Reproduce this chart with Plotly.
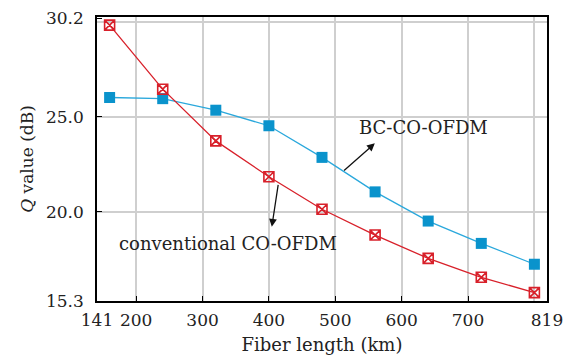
import plotly.graph_objects as go

fiber_length = [160, 240, 320, 400, 480, 560, 640, 720, 800]
q_bc = [26.02, 25.96, 25.35, 24.53, 22.86, 21.04, 19.50, 18.32, 17.22]
q_conv = [29.84, 26.46, 23.73, 21.84, 20.12, 18.76, 17.53, 16.53, 15.72]

x_tickvals = [141, 200, 300, 400, 500, 600, 700, 819]
x_ticktext = ["141", "200", "300", "400", "500", "600", "700", "819"]
x_gridvals = [200, 300, 400, 500, 600, 700, 800]
y_tickvals = [15.3, 20.0, 25.0, 30.2]
y_ticktext = ["15.3", "20.0", "25.0", "30.2"]
y_gridvals = [20, 25, 30]

FONT = "DejaVu Serif"
BLUE = "#0a93cc"
BLUE_LINE = "#2aa8dc"
RED = "#d8202a"

fig = go.Figure()
fig.add_trace(go.Scatter(
    x=fiber_length, y=q_bc, mode="lines+markers", name="BC-CO-OFDM",
    line=dict(color=BLUE_LINE, width=1.3),
    marker=dict(symbol="square", size=11, color=BLUE, line=dict(width=0)),
))
fig.add_trace(go.Scatter(
    x=fiber_length, y=q_conv, mode="lines+markers", name="conventional CO-OFDM",
    line=dict(color=RED, width=1.3),
    marker=dict(symbol="square-x-open", size=10, color=RED, line=dict(width=1.6)),
))

axis_common = dict(
    showline=True, linecolor="black", linewidth=1.5, mirror=True,
    ticks="inside", ticklen=5, tickcolor="black", tickwidth=1.2,
    tickfont=dict(family=FONT, size=17, color="#222"),
    zeroline=False, automargin=False,
)

fig.update_xaxes(
    range=[141, 819], tickmode="array", tickvals=x_tickvals, ticktext=x_ticktext,
    showgrid=False,
    minor=dict(tickmode="array", tickvals=x_gridvals, showgrid=True,
               gridcolor="#cfcfcf", gridwidth=1.5, ticks=""),
    title=dict(text="Fiber length (km)", font=dict(family=FONT, size=18, color="#222"),
               standoff=9),
    ticklabelstandoff=3,
    **axis_common,
)
fig.update_yaxes(
    range=[15.28, 30.27], tickmode="array", tickvals=y_tickvals, ticktext=y_ticktext,
    showgrid=False,
    minor=dict(tickmode="array", tickvals=y_gridvals, showgrid=True,
               gridcolor="#cfcfcf", gridwidth=1.5, ticks=""),
    title=dict(text="<i>Q</i> value (dB)", font=dict(family=FONT, size=17, color="#222"),
               standoff=8),
    ticklabelstandoff=8,
    **axis_common,
)

fig.add_annotation(x=559.6, y=23.6, ax=511, ay=22.1, xref="x", yref="y",
                   axref="x", ayref="y", text="", showarrow=True,
                   arrowhead=2, arrowsize=1.2, arrowwidth=1.3, arrowcolor="#111")
fig.add_annotation(x=404.4, y=19.2, ax=414.3, ay=21.49, xref="x", yref="y",
                   axref="x", ayref="y", text="", showarrow=True,
                   arrowhead=2, arrowsize=1.2, arrowwidth=1.3, arrowcolor="#111")
fig.add_annotation(x=633, y=24.46, xref="x", yref="y", text="BC-CO-OFDM",
                   showarrow=False, font=dict(family=FONT, size=18, color="#222"))
fig.add_annotation(x=338, y=18.34, xref="x", yref="y", text="conventional CO-OFDM",
                   showarrow=False, font=dict(family=FONT, size=18, color="#222"))

fig.update_layout(
    width=570, height=356,
    margin=dict(l=97, r=23, t=17, b=55),
    paper_bgcolor="white", plot_bgcolor="white",
    showlegend=False,
)

fig.write_html("out.html")
